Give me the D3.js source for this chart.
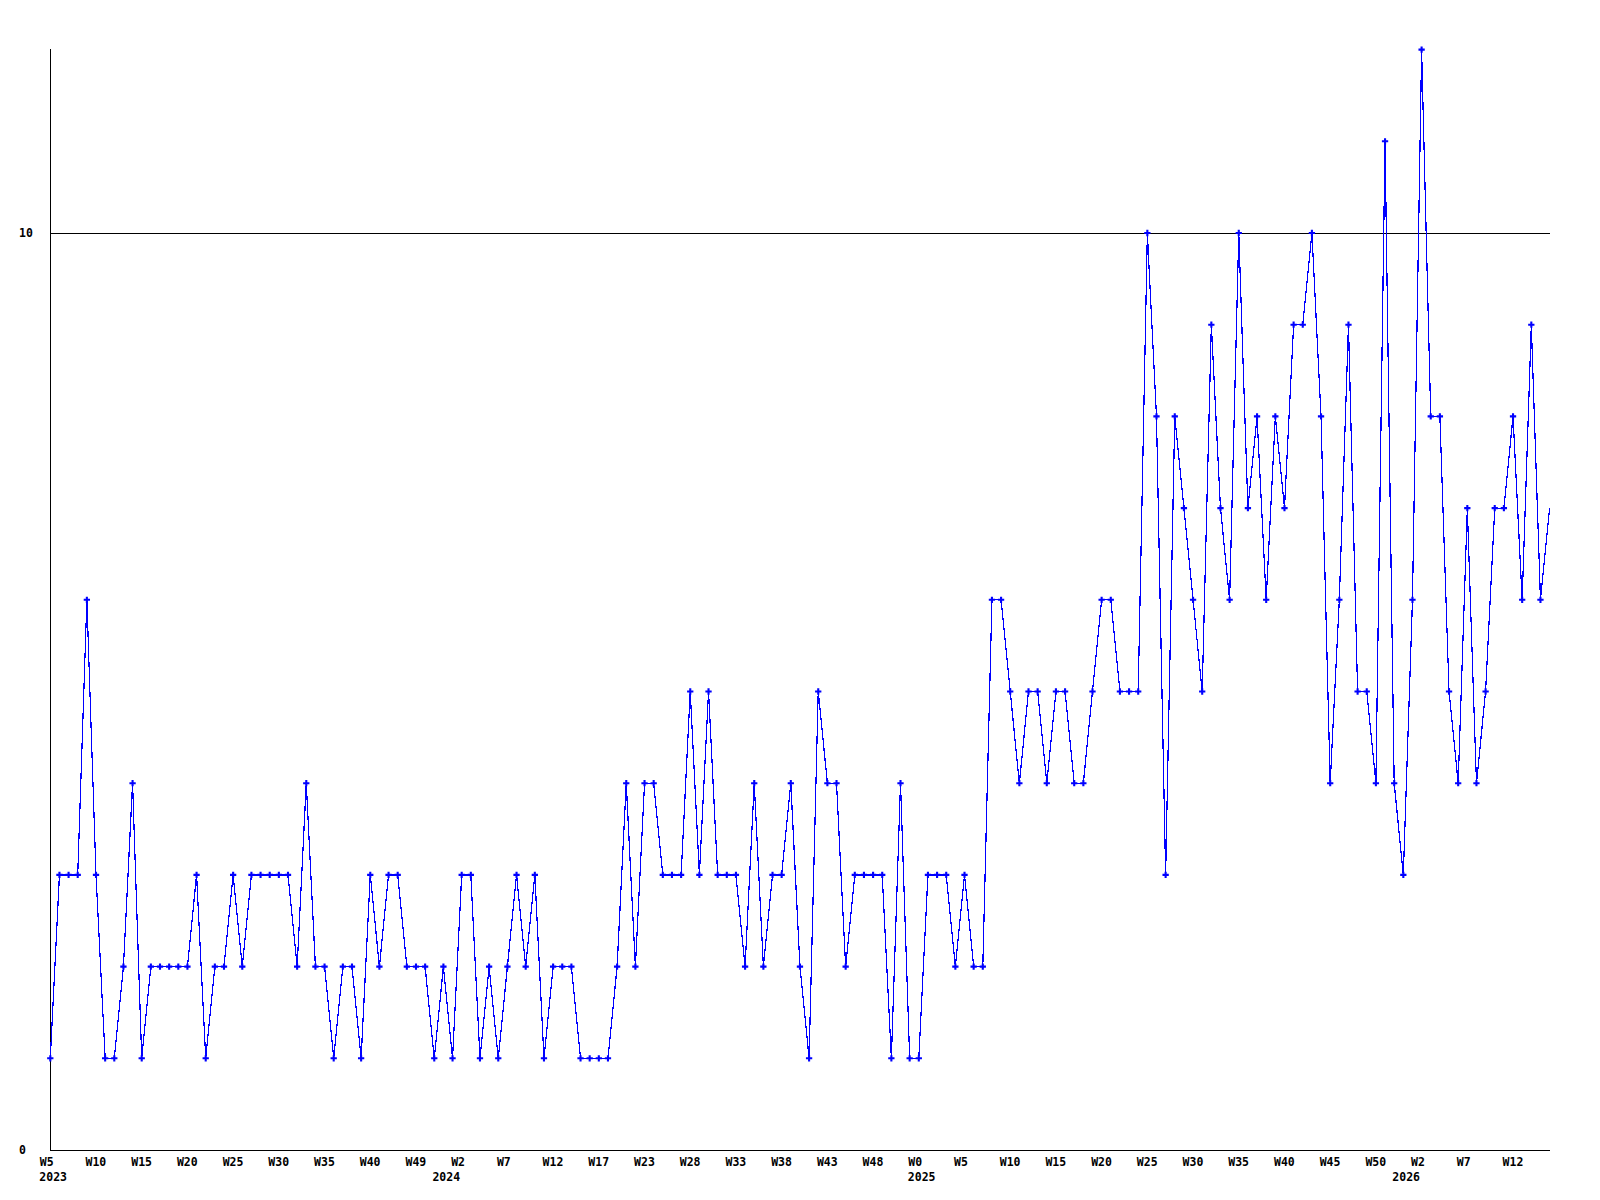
<!DOCTYPE html>
<html>
<head>
<meta charset="utf-8">
<script src="https://cdn.jsdelivr.net/npm/d3@7"></script>
<style>
  html, body { margin: 0; padding: 0; background: #ffffff; }
  svg { display: block; }
  text { font-family: "DejaVu Sans Mono", "Liberation Mono", monospace; font-weight: bold; font-size: 11.5px; fill: #000; }
</style>
</head>
<body>
<script>
// ---- data (one value per week) ----
const values = [
  1,3,3,3,6,3,1,1,2,4,1,2,2,2,2,2,3,1,2,2,3,2,3,3,3,3,3,2,4,2,2,
  1,2,2,1,3,2,3,3,2,2,2,1,2,1,3,3,1,2,1,2,3,2,3,1,2,2,2,1,1,1,1,2,
  4,2,4,4,3,3,3,5,3,5,3,3,3,2,4,2,3,3,4,2,1,5,4,4,2,3,3,3,3,1,4,
  1,1,3,3,3,2,3,2,2,6,6,5,4,5,5,4,5,5,4,4,5,6,6,5,5,5,
  10,8,3,8,7,6,5,9,7,6,10,7,8,6,8,7,9,9,10,8,4,6,9,
  5,5,4,11,4,3,6,12,8,8,5,4,7,4,5,7,7,8,6,9,6,7
];
// week labels shown every 5th point
const weekTickLabels = [
  "W5","W10","W15","W20","W25","W30","W35","W40","W49",
  "W2","W7","W12","W17","W23","W28","W33","W38","W43","W48",
  "W0","W5","W10","W15","W20","W25","W30","W35","W40","W45","W50",
  "W2","W7","W12"
];
const tickStep = 5;
const yearLabels = ["2023","2024","2025","2026"];
const yearLabelIndex = [0, 43, 95, 148];
const yTickValues = [0, 10];
const yMax = 12;
const gridValues = [10];

// ---- layout ----
const W = 1600, H = 1200;
const mLeft = 50.3, mRight = 1550, mTop = 49.6, mBottom = 1150;

const svg = d3.select("body").append("svg").attr("width", W).attr("height", H);

const x = d3.scaleLinear().domain([0, values.length - 1]).range([mLeft, mRight - 0.4]);
const y = d3.scaleLinear().domain([0, yMax]).range([mBottom, mTop]);

// gridline
svg.append("g").selectAll("line").data(gridValues).join("line")
  .attr("x1", mLeft).attr("x2", mRight)
  .attr("y1", d => Math.round(y(d)) + 0.5).attr("y2", d => Math.round(y(d)) + 0.5)
  .attr("stroke", "#000").attr("stroke-width", 1).attr("shape-rendering", "crispEdges");

// y axis (line + labels)
svg.append("line")
  .attr("x1", 50.5).attr("x2", 50.5).attr("y1", mTop - 1).attr("y2", mBottom)
  .attr("stroke", "#000").attr("stroke-width", 1).attr("shape-rendering", "crispEdges");
svg.append("g").selectAll("text").data(yTickValues).join("text")
  .attr("x", 19).attr("y", d => y(d)).attr("dy", "0.35em")
  .attr("text-anchor", "start").text(d => d);

// x axis
const tickIdx = weekTickLabels.map((_, i) => i * tickStep);
const xAxis = d3.axisBottom(x).tickValues(tickIdx).tickSize(0)
  .tickFormat((d, i) => weekTickLabels[i]);
const gx = svg.append("g").attr("transform", `translate(0,${mBottom + 0.5})`).call(xAxis);
gx.select(".domain").attr("d", `M${mLeft},0H${mRight}`).attr("stroke", "#000").attr("shape-rendering", "crispEdges");
gx.selectAll(".tick text")
  .attr("text-anchor", "start").attr("dx", -11).attr("y", 15).attr("dy", 0)
  .style("font-family", "'DejaVu Sans Mono', monospace").style("font-weight", "bold").style("font-size", "11.5px");

// year labels
svg.append("g").selectAll("text").data(yearLabels).join("text")
  .attr("x", (d, i) => x(yearLabelIndex[i]) - 11)
  .attr("y", mBottom + 31)
  .attr("text-anchor", "start").text(d => d);

// data line
const line = d3.line().x((d, i) => x(i)).y(d => y(d));
svg.append("path").datum(values)
  .attr("d", line).attr("fill", "none").attr("stroke", "#0000ff").attr("stroke-width", 1.2)
  .attr("shape-rendering", "crispEdges");

// markers (completed weeks)
const marker = d3.symbol().type(d3.symbolCross).size(22);
svg.append("g").selectAll("path").data(values.slice(0, values.length - 1)).join("path")
  .attr("transform", (d, i) => `translate(${x(i)},${y(d)})`)
  .attr("d", marker).attr("fill", "#0000ff");
</script>
</body>
</html>
